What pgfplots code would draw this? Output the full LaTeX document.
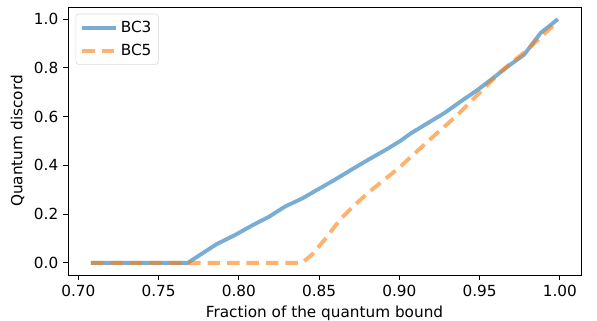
\documentclass[border=0pt]{standalone}
\usepackage{pgfplots}
\pgfplotsset{compat=1.18}
\usepackage{fontspec}
\setmainfont{DejaVu Sans}
\definecolor{c1}{HTML}{1F77B4}
\definecolor{c2}{HTML}{FF7F0E}
\begin{document}
\begin{tikzpicture}[x=1pt,y=1pt]
\begin{axis}[
  scale only axis,
  width=369.4pt, height=193pt,
  xmin=0.6935, xmax=1.0132,
  ymin=-0.05, ymax=1.05,
  xtick={0.70,0.75,0.80,0.85,0.90,0.95,1.00},
  ytick={0,0.2,0.4,0.6,0.8,1.0},
  xticklabel style={/pgf/number format/.cd, fixed, fixed zerofill, precision=2},
  yticklabel style={/pgf/number format/.cd, fixed, fixed zerofill, precision=1},
  /pgf/number format/assume math mode=true,
  tick label style={font=\fontsize{11}{13}\selectfont},
  label style={font=\fontsize{11}{13}\selectfont},
  tick align=outside, xtick pos=bottom, ytick pos=left,
  major tick length=3.5pt,
  tick style={black, line width=0.6pt},
  axis line style={line width=0.6pt},
  xlabel={Fraction of the quantum bound},
  ylabel={Quantum discord},
  xlabel style={yshift=0pt},
  ylabel style={yshift=0pt},
  legend style={at={(0.015,0.975)}, anchor=north west, draw=black!15, rounded corners=2pt, font=\fontsize{11}{13}\selectfont, inner sep=3pt, row sep=3pt},
  legend cell align=left,
  legend image code/.code={\draw[#1] (0pt,0pt) -- (24.5pt,0pt);},
]
\addplot[c1, opacity=0.6, line width=2.8pt] coordinates {
(0.7078,0) (0.7181,0) (0.7284,0) (0.7387,0) (0.7490,0) (0.7593,0) (0.7681,0)
(0.7857,0.075) (0.7981,0.116) (0.8084,0.154) (0.8187,0.189) (0.8290,0.232)
(0.8394,0.264) (0.8497,0.303) (0.8600,0.342) (0.8703,0.383) (0.8806,0.423)
(0.8910,0.462) (0.9003,0.499) (0.9075,0.533) (0.9178,0.574) (0.9281,0.615)
(0.9384,0.663) (0.9488,0.710) (0.9591,0.762) (0.9684,0.810) (0.9777,0.854)
(0.9880,0.943) (0.9988,1.0)
};
\addlegendentry{BC3}
\addplot[c2, opacity=0.6, line width=2.8pt, dash pattern=on 9pt off 5pt] coordinates {
(0.7078,0) (0.7400,0) (0.7700,0) (0.8000,0) (0.8394,0)
(0.8456,0.034) (0.8538,0.098) (0.8631,0.178) (0.8724,0.239) (0.8817,0.294)
(0.8993,0.387) (0.9178,0.499) (0.9364,0.608) (0.9550,0.731) (0.9633,0.786)
(0.9798,0.874) (0.9984,0.990)
};
\addlegendentry{BC5}
\end{axis}
\pgfresetboundingbox
\path[use as bounding box] ([shift={(-48.96pt,-32.4pt)}]current axis.south west) rectangle ([shift={(11.52pt,5.04pt)}]current axis.north east);
\end{tikzpicture}
\end{document}
